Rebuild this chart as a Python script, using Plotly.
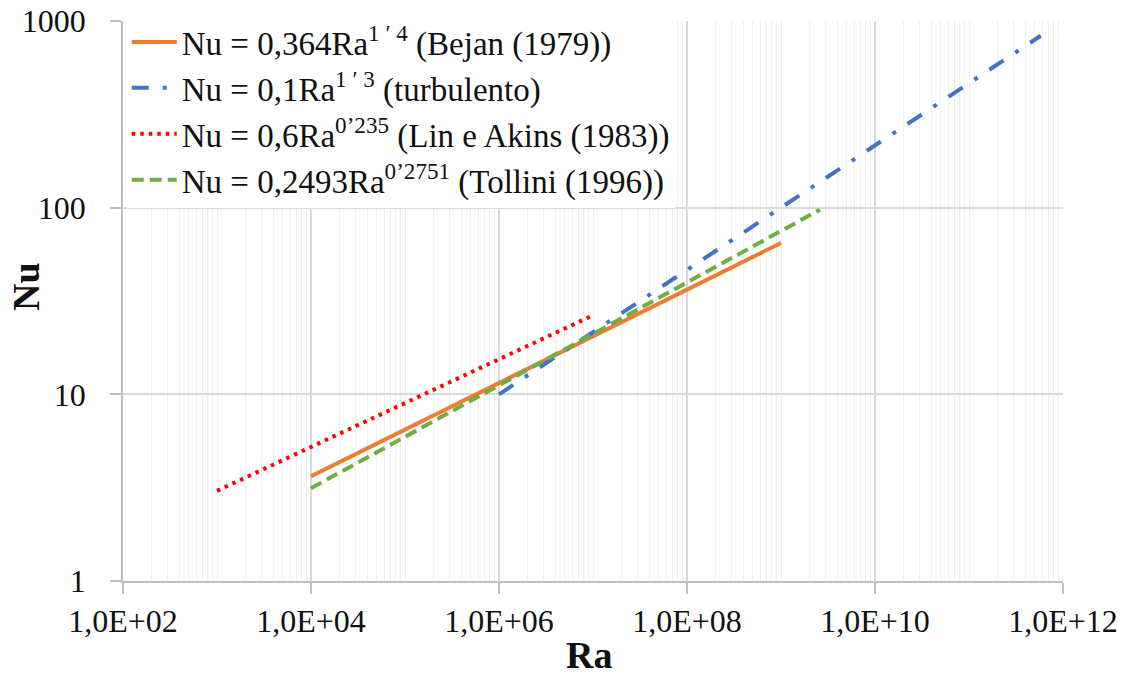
import plotly.graph_objects as go

# ---- data ----
ra_bejan = [1e4, 1e9]
nu_bejan = [3.64, 64.7]

ra_turb = [1e6, 5.8e11]
nu_turb = [10.0, 834.0]

ra_lin = [1e3, 1e7]
nu_lin = [3.04, 26.5]

ra_toll = [1e4, 2.6e9]
nu_toll = [3.14, 97.6]

series_names = [
    "Nu = 0,364Ra<sup>1 ′ 4</sup> (Bejan (1979))",
    "Nu = 0,1Ra<sup>1 ′ 3</sup> (turbulento)",
    "Nu = 0,6Ra<sup>0’235</sup> (Lin e Akins (1983))",
    "Nu = 0,2493Ra<sup>0’2751</sup> (Tollini (1996))",
]

x_tick_vals = [1e2, 1e4, 1e6, 1e8, 1e10, 1e12]
x_tick_text = ["1,0E+02", "1,0E+04", "1,0E+06", "1,0E+08", "1,0E+10", "1,0E+12"]
y_tick_vals = [1, 10, 100, 1000]
y_tick_text = ["1", "10", "100", "1000"]

# minor vertical gridlines (2..9 x 10^n and odd decades)
minor_x = [m * 10 ** e for e in range(2, 12) for m in range(2, 10)] + [10 ** e for e in (3, 5, 7, 9, 11)]

FONT = "Liberation Serif"
TXT = "#111111"
GRID = "#d9d9d9"
MINOR = "#efefef"
AXIS = "#bfbfbf"

L, R, T, B = 123, 66, 21, 94
W, H = 1129, 675

fig = go.Figure()
fig.add_trace(go.Scatter(x=ra_bejan, y=nu_bejan, mode="lines", name=series_names[0],
                         line=dict(color="#ED7D31", width=4)))
fig.add_trace(go.Scatter(x=ra_turb, y=nu_turb, mode="lines", name=series_names[1],
                         line=dict(color="#4472C4", width=4, dash="17px,14px,4px,14px")))
fig.add_trace(go.Scatter(x=ra_lin, y=nu_lin, mode="lines", name=series_names[2],
                         line=dict(color="#FF0000", width=4, dash="3.5px,5px")))
fig.add_trace(go.Scatter(x=ra_toll, y=nu_toll, mode="lines", name=series_names[3],
                         line=dict(color="#70AD47", width=4, dash="12px,6px")))

pw = W - L - R
ph = H - T - B


def px_x(x):
    return (x - L) / pw


def px_y(y):
    return (H - y - B) / ph


fig.update_layout(
    width=W, height=H,
    margin=dict(l=L, r=R, t=T, b=B, autoexpand=False),
    paper_bgcolor="white", plot_bgcolor="white",
    font=dict(family=FONT, size=32, color=TXT),
    showlegend=True,
    legend=dict(x=0.004, y=px_y(14), xanchor="left", yanchor="top",
                bgcolor="white", borderwidth=0, itemwidth=45,
                font=dict(family=FONT, size=33, color=TXT),
                tracegroupgap=0),
    xaxis=dict(type="log", range=[2, 12], automargin=False,
               tickmode="array", tickvals=x_tick_vals, ticktext=x_tick_text,
               ticks="outside", ticklen=11, tickcolor=AXIS, tickwidth=1.5,
               showline=True, linecolor=AXIS, linewidth=1.5,
               showgrid=True, gridcolor=GRID, gridwidth=1.5,
               minor=dict(tickmode="array", tickvals=minor_x, showgrid=True,
                          gridcolor=MINOR, gridwidth=1, ticks=""),
               zeroline=False, ticklabelstandoff=0,
               tickfont=dict(family=FONT, size=32, color=TXT)),
    yaxis=dict(type="log", range=[0, 3], automargin=False,
               tickmode="array", tickvals=y_tick_vals, ticktext=y_tick_text,
               ticks="outside", ticklen=11, tickcolor=AXIS, tickwidth=1.5,
               showline=True, linecolor=AXIS, linewidth=1.5,
               showgrid=True, gridcolor=GRID, gridwidth=1.5,
               zeroline=False, ticklabelstandoff=18,
               tickfont=dict(family=FONT, size=32, color=TXT)),
    annotations=[
        dict(text="<b>Ra</b>", x=px_x(589), y=px_y(655), xref="paper", yref="paper",
             xanchor="center", yanchor="middle",
             showarrow=False, font=dict(family=FONT, size=38, color=TXT)),
        dict(text="<b>Nu</b>", x=px_x(26), y=px_y(287), xref="paper", yref="paper",
             xanchor="center", yanchor="middle",
             showarrow=False, textangle=-90, font=dict(family=FONT, size=38, color=TXT)),
    ],
)

fig.write_html("out.html", config={"displayModeBar": False},
               post_script="document.body.style.margin='0px';")
